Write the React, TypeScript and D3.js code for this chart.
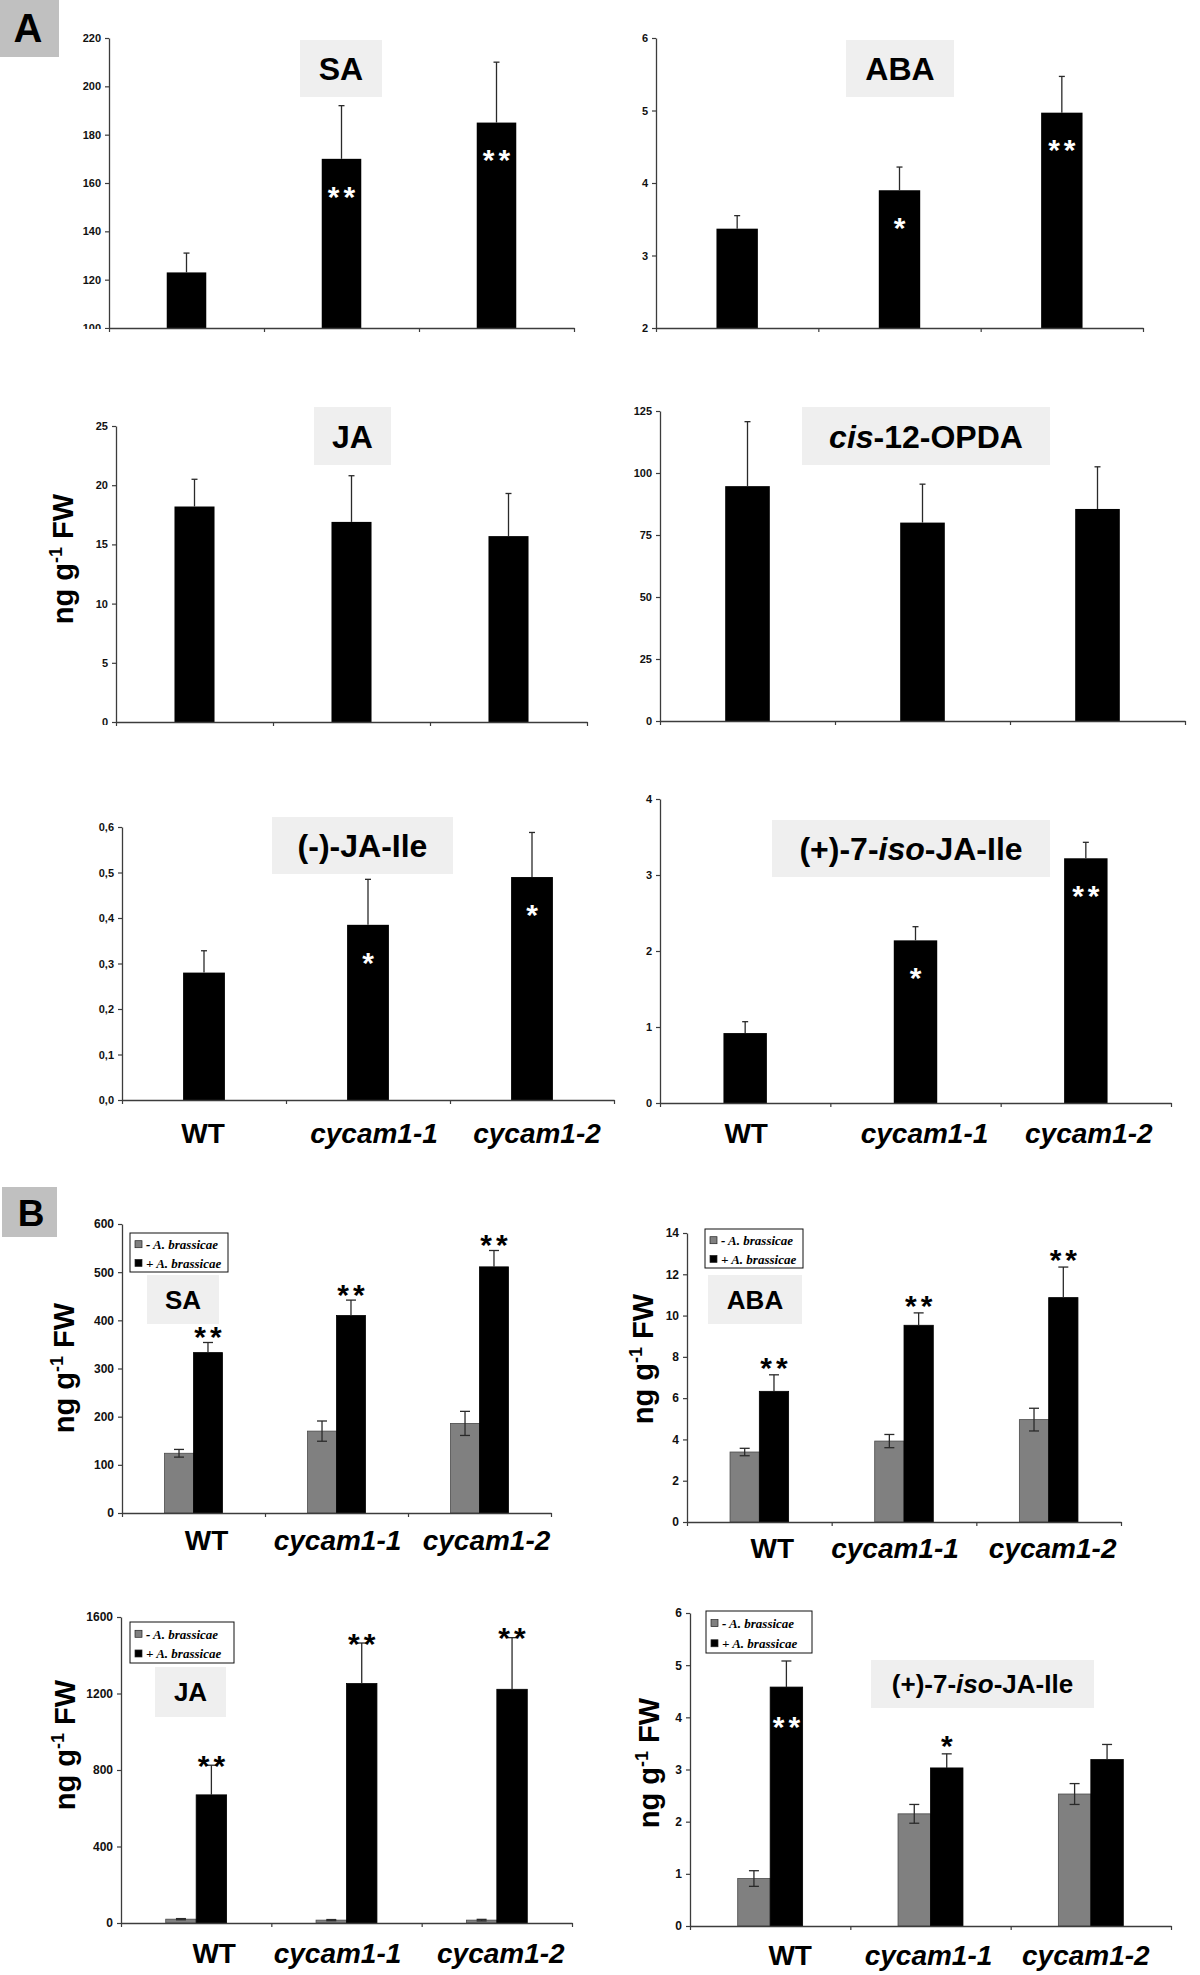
import React, { useEffect, useRef } from 'react';
import * as d3 from 'd3';

// ---- data ----
const genotypes = ['WT', 'cycam1-1', 'cycam1-2'];

// panel A (single series)
const saMean = [123, 170, 185];
const saErr = [8, 22, 25];
const saSig = ['', '**', '**'];
const saTicks = [100, 120, 140, 160, 180, 200, 220];

const abaMean = [3.37, 3.9, 4.97];
const abaErr = [0.18, 0.32, 0.5];
const abaSig = ['', '*', '**'];
const abaTicks = [2, 3, 4, 5, 6];

const jaMean = [18.2, 16.9, 15.7];
const jaErr = [2.3, 3.9, 3.6];
const jaSig = ['', '', ''];
const jaTicks = [0, 5, 10, 15, 20, 25];

const opdaMean = [94.7, 80, 85.5];
const opdaErr = [26, 15.5, 17];
const opdaSig = ['', '', ''];
const opdaTicks = [0, 25, 50, 75, 100, 125];

const jaIleMean = [0.28, 0.385, 0.49];
const jaIleErr = [0.048, 0.1, 0.098];
const jaIleSig = ['', '*', '*'];
const jaIleTicks = [0, 0.1, 0.2, 0.3, 0.4, 0.5, 0.6];

const isoMean = [0.92, 2.14, 3.22];
const isoErr = [0.15, 0.18, 0.21];
const isoSig = ['', '*', '**'];
const isoTicks = [0, 1, 2, 3, 4];

// panel B (- / + A. brassicae)
const bSaMinus = [124, 170, 186];
const bSaMinusErr = [8, 21, 25];
const bSaPlus = [333, 410, 511];
const bSaPlusErr = [21, 32, 34];
const bSaSig = ['**', '**', '**'];
const bSaTicks = [0, 100, 200, 300, 400, 500, 600];

const bAbaMinus = [3.39, 3.92, 4.96];
const bAbaMinusErr = [0.18, 0.32, 0.55];
const bAbaPlus = [6.33, 9.53, 10.87];
const bAbaPlusErr = [0.8, 0.6, 1.48];
const bAbaSig = ['**', '**', '**'];
const bAbaTicks = [0, 2, 4, 6, 8, 10, 12, 14];

const bJaMinus = [20, 15, 15];
const bJaMinusErr = [3, 3, 4];
const bJaPlus = [670, 1252, 1222];
const bJaPlusErr = [155, 212, 270];
const bJaSig = ['**', '**', '**'];
const bJaTicks = [0, 400, 800, 1200, 1600];

const bIsoMinus = [0.91, 2.15, 2.53];
const bIsoMinusErr = [0.15, 0.18, 0.2];
const bIsoPlus = [4.58, 3.03, 3.19];
const bIsoPlusErr = [0.5, 0.27, 0.29];
const bIsoSig = ['**', '*', ''];
const bIsoSigInside = [true, false, false];
const bIsoTicks = [0, 1, 2, 3, 4, 5, 6];

const legendLabels = ['- A. brassicae', '+ A. brassicae'];

type Seg = [string, boolean];
const titleSA: Seg[] = [['SA', false]];
const titleABA: Seg[] = [['ABA', false]];
const titleJA: Seg[] = [['JA', false]];
const titleOPDA: Seg[] = [['cis', true], ['-12-OPDA', false]];
const titleJAIle: Seg[] = [['(-)-JA-Ile', false]];
const titleIso: Seg[] = [['(+)-7-', false], ['iso', true], ['-JA-Ile', false]];

// ---- styles ----
const FONT = '"Liberation Sans", Arial, Helvetica, sans-serif';
const SERIF = '"Liberation Serif", "Times New Roman", serif';
const AXIS = '#3c3c3c';
const ERR = '#2a2a2a';
const GRAY = '#808080';
const TITLE_BG = '#efefef';
const LABEL_BG = '#c0c0c0';

interface Frame { l: number; r: number; t: number; b: number }
interface Layout {
  frame: Frame;
  titleBox: [number, number, number, number];
  titleSize: number;
  tickFont: number;
  clipLow?: number; // tick labels cut below b + clipLow
  yLabel?: [number, number];
  cats?: { y: number; dx: number[] };
  legend?: [number, number, number, number];
  starGap?: number;
}

const commaFmt = (v: number) => d3.format('.1f')(v).replace('.', ',');
const plainFmt = (v: number) => String(v);

function drawTitle(g: any, box: [number, number, number, number], segs: Seg[], size: number) {
  const [x0, y0, x1, y1] = box;
  g.append('rect').attr('x', x0).attr('y', y0).attr('width', x1 - x0).attr('height', y1 - y0).attr('fill', TITLE_BG);
  const t = g.append('text')
    .attr('x', (x0 + x1) / 2)
    .attr('y', (y0 + y1) / 2 + size * 0.36)
    .attr('text-anchor', 'middle')
    .attr('font-family', FONT)
    .attr('font-weight', 'bold')
    .attr('font-size', size)
    .attr('fill', '#000');
  segs.forEach(([s, it]) => t.append('tspan').attr('font-style', it ? 'italic' : 'normal').text(s));
}

let clipCount = 0;
function drawAxes(g: any, y: any, f: Frame, ticks: number[], fmt: (v: number) => string, lay: Layout) {
  const yAxis = d3.axisLeft(y).tickValues(ticks).tickFormat(fmt as any).tickSize(4).tickSizeOuter(0).tickPadding(4);
  const ga = g.append('g').attr('transform', `translate(${f.l},0)`).call(yAxis);
  ga.attr('font-family', FONT).attr('font-size', lay.tickFont).attr('font-weight', 'bold');
  ga.select('.domain').attr('stroke', AXIS).attr('stroke-width', 1.3);
  ga.selectAll('.tick line').attr('stroke', AXIS).attr('stroke-width', 1.2);
  ga.selectAll('.tick text').attr('fill', '#111');
  if (lay.clipLow !== undefined) {
    const id = `clip-low-${clipCount++}`;
    g.append('clipPath').attr('id', id).append('rect')
      .attr('x', -f.l).attr('y', 0).attr('width', f.l + 20).attr('height', f.b + lay.clipLow);
    ga.attr('clip-path', `url(#${id})`);
  }

  const xb = d3.scaleLinear().domain([0, genotypes.length]).range([f.l, f.r]);
  const xAxis = d3.axisBottom(xb).tickValues(d3.range(genotypes.length + 1)).tickFormat(() => '').tickSize(4).tickSizeOuter(0);
  const gx = g.append('g').attr('transform', `translate(0,${f.b})`).call(xAxis);
  gx.select('.domain').attr('stroke', AXIS).attr('stroke-width', 1.3);
  gx.selectAll('.tick line').attr('stroke', AXIS).attr('stroke-width', 1.2);
}

function drawYLabel(g: any, pos: [number, number]) {
  const size = 29;
  const t = g.append('text')
    .attr('transform', `translate(${pos[0] + size * 0.25},${pos[1]}) rotate(-90)`)
    .attr('text-anchor', 'middle')
    .attr('font-family', FONT)
    .attr('font-weight', 'bold')
    .attr('font-size', size)
    .attr('fill', '#000')
    .style('white-space', 'pre');
  t.append('tspan').text('ng g');
  t.append('tspan').attr('font-size', 18).attr('dy', -11).text('-1');
  t.append('tspan').attr('dy', 11).text(' FW');
}

function drawCats(g: any, x: any, cats: { y: number; dx: number[] }) {
  genotypes.forEach((name, i) => {
    g.append('text')
      .attr('x', x(name) + x.bandwidth() / 2 + cats.dx[i])
      .attr('y', cats.y)
      .attr('text-anchor', 'middle')
      .attr('font-family', FONT)
      .attr('font-weight', 'bold')
      .attr('font-style', name === 'WT' ? 'normal' : 'italic')
      .attr('font-size', 28)
      .attr('fill', '#000')
      .text(name);
  });
}

function star(g: any, x: number, cy: number, s: string, color: string) {
  const size = 30;
  g.append('text')
    .attr('x', x + (s.length > 1 ? 2 : 0))
    .attr('y', cy + size * 0.59)
    .attr('text-anchor', 'middle')
    .attr('font-family', FONT)
    .attr('font-weight', 'bold')
    .attr('font-size', size)
    .attr('letter-spacing', s.length > 1 ? 4 : 0)
    .attr('fill', color)
    .text(s);
}

interface SingleCfg {
  title: Seg[]; ticks: number[]; mean: number[]; err: number[]; sig: string[];
  fmt: (v: number) => string; layout: Layout;
}

function drawSingle(svg: any, c: SingleCfg) {
  const lay = c.layout;
  const f = lay.frame;
  const g = svg.append('g');
  const y = d3.scaleLinear().domain([c.ticks[0], c.ticks[c.ticks.length - 1]]).range([f.b, f.t]);
  const x = d3.scaleBand().domain(genotypes).range([f.l, f.r]).padding(0);
  const bw = x.bandwidth() * 0.255;
  const rows = genotypes.map((name, i) => ({ name, mean: c.mean[i], err: c.err[i], sig: c.sig[i] }));
  const cx = (d: any) => (x(d.name) as number) + x.bandwidth() / 2;

  drawTitle(g, lay.titleBox, c.title, lay.titleSize);

  g.selectAll('rect.bar').data(rows).enter().append('rect')
    .attr('x', (d: any) => cx(d) - bw / 2)
    .attr('y', (d: any) => y(d.mean))
    .attr('width', bw)
    .attr('height', (d: any) => y(c.ticks[0]) - y(d.mean))
    .attr('fill', '#000');

  rows.forEach(d => {
    const xc = cx(d);
    g.append('line').attr('x1', xc).attr('x2', xc).attr('y1', y(d.mean)).attr('y2', y(d.mean + d.err))
      .attr('stroke', ERR).attr('stroke-width', 1.3);
    g.append('line').attr('x1', xc - 3).attr('x2', xc + 3).attr('y1', y(d.mean + d.err)).attr('y2', y(d.mean + d.err))
      .attr('stroke', ERR).attr('stroke-width', 1.3);
    if (d.sig) star(g, xc, y(d.mean) + 30, d.sig, '#fff');
  });

  drawAxes(g, y, f, c.ticks, c.fmt, lay);
  if (lay.yLabel) drawYLabel(g, lay.yLabel);
  if (lay.cats) drawCats(g, x, lay.cats);
}

interface PairCfg {
  title: Seg[]; ticks: number[];
  minus: number[]; minusErr: number[]; plus: number[]; plusErr: number[];
  sig: string[]; sigInside?: boolean[]; layout: Layout;
}

function drawPair(svg: any, c: PairCfg) {
  const lay = c.layout;
  const f = lay.frame;
  const g = svg.append('g');
  const y = d3.scaleLinear().domain([c.ticks[0], c.ticks[c.ticks.length - 1]]).range([f.b, f.t]);
  const x = d3.scaleBand().domain(genotypes).range([f.l, f.r]).padding(0);
  const pairW = x.bandwidth() * 0.405;
  const sub = d3.scaleBand().domain(['minus', 'plus']).range([0, pairW]);
  const rows = genotypes.flatMap((name, i) => [
    { name, key: 'minus', mean: c.minus[i], err: c.minusErr[i], i },
    { name, key: 'plus', mean: c.plus[i], err: c.plusErr[i], i },
  ]);
  const bx = (d: any) => (x(d.name) as number) + (x.bandwidth() - pairW) / 2 + (sub(d.key) as number);

  drawTitle(g, lay.titleBox, c.title, lay.titleSize);

  g.selectAll('rect.bar').data(rows).enter().append('rect')
    .attr('x', (d: any) => bx(d))
    .attr('y', (d: any) => y(d.mean))
    .attr('width', sub.bandwidth())
    .attr('height', (d: any) => y(0) - y(d.mean))
    .attr('fill', (d: any) => (d.key === 'minus' ? GRAY : '#000'))
    .attr('stroke', (d: any) => (d.key === 'minus' ? '#4a4a4a' : '#000'))
    .attr('stroke-width', 0.8);

  rows.forEach(d => {
    const xc = bx(d) + sub.bandwidth() / 2;
    // the black (+) bars only show the upper half of the error bar
    const lo = d.key === 'minus' ? y(Math.max(0, d.mean - d.err)) : y(d.mean);
    const hi = y(d.mean + d.err);
    g.append('line').attr('x1', xc).attr('x2', xc).attr('y1', lo).attr('y2', hi).attr('stroke', ERR).attr('stroke-width', 1.3);
    const caps = d.key === 'minus' ? [lo, hi] : [hi];
    caps.forEach(yy => g.append('line').attr('x1', xc - 5).attr('x2', xc + 5).attr('y1', yy).attr('y2', yy)
      .attr('stroke', ERR).attr('stroke-width', 1.3));
    if (d.key === 'plus' && c.sig[d.i]) {
      if (c.sigInside && c.sigInside[d.i]) star(g, xc, y(d.mean) + 32, c.sig[d.i], '#fff');
      else star(g, xc, hi - (lay.starGap ?? 13), c.sig[d.i], '#000');
    }
  });

  drawAxes(g, y, f, c.ticks, plainFmt, lay);
  if (lay.yLabel) drawYLabel(g, lay.yLabel);
  if (lay.cats) drawCats(g, x, lay.cats);

  if (lay.legend) {
    const [lx, ly, lw, lh] = lay.legend;
    const lg = g.append('g');
    lg.append('rect').attr('x', lx).attr('y', ly).attr('width', lw).attr('height', lh)
      .attr('fill', '#fff').attr('stroke', '#111').attr('stroke-width', 1);
    legendLabels.forEach((lab, k) => {
      const ry = ly + lh * (k === 0 ? 0.3 : 0.78);
      lg.append('rect').attr('x', lx + 5).attr('y', ry - 4).attr('width', 7).attr('height', 7)
        .attr('fill', k === 0 ? GRAY : '#000').attr('stroke', '#222').attr('stroke-width', 0.7);
      lg.append('text').attr('x', lx + 16).attr('y', ry + 4.5)
        .attr('font-family', SERIF).attr('font-style', 'italic').attr('font-weight', 'bold')
        .attr('font-size', 13).attr('fill', '#000').text(lab);
    });
  }
}

const singleCharts: SingleCfg[] = [
  { title: titleSA, ticks: saTicks, mean: saMean, err: saErr, sig: saSig, fmt: plainFmt,
    layout: { frame: { l: 109, r: 574, t: 38, b: 328 }, titleBox: [300, 40, 382, 97], titleSize: 32, tickFont: 11, clipLow: 1 } },
  { title: titleABA, ticks: abaTicks, mean: abaMean, err: abaErr, sig: abaSig, fmt: plainFmt,
    layout: { frame: { l: 656, r: 1143, t: 38, b: 328 }, titleBox: [846, 40, 954, 97], titleSize: 32, tickFont: 11 } },
  { title: titleJA, ticks: jaTicks, mean: jaMean, err: jaErr, sig: jaSig, fmt: plainFmt,
    layout: { frame: { l: 116, r: 587, t: 426, b: 722 }, titleBox: [314, 407, 391, 465], titleSize: 32, tickFont: 11, clipLow: 3, yLabel: [66, 559] } },
  { title: titleOPDA, ticks: opdaTicks, mean: opdaMean, err: opdaErr, sig: opdaSig, fmt: plainFmt,
    layout: { frame: { l: 660, r: 1185, t: 411, b: 721 }, titleBox: [802, 407, 1050, 465], titleSize: 32, tickFont: 11 } },
  { title: titleJAIle, ticks: jaIleTicks, mean: jaIleMean, err: jaIleErr, sig: jaIleSig, fmt: commaFmt,
    layout: { frame: { l: 122, r: 614, t: 827, b: 1100 }, titleBox: [272, 817, 453, 874], titleSize: 32, tickFont: 11, cats: { y: 1143, dx: [-1, 6, 5] } } },
  { title: titleIso, ticks: isoTicks, mean: isoMean, err: isoErr, sig: isoSig, fmt: plainFmt,
    layout: { frame: { l: 660, r: 1171, t: 799, b: 1103 }, titleBox: [772, 820, 1050, 877], titleSize: 32, tickFont: 11, cats: { y: 1143, dx: [1, 9, 3] } } },
];

const pairCharts: PairCfg[] = [
  { title: titleSA, ticks: bSaTicks, minus: bSaMinus, minusErr: bSaMinusErr, plus: bSaPlus, plusErr: bSaPlusErr, sig: bSaSig,
    layout: { frame: { l: 122, r: 551, t: 1224, b: 1513 }, titleBox: [147, 1275, 219, 1324], titleSize: 26, tickFont: 12,
      yLabel: [67, 1368], cats: { y: 1550, dx: [13, 1, 7] }, legend: [130, 1233, 98, 39], starGap: 13 } },
  { title: titleABA, ticks: bAbaTicks, minus: bAbaMinus, minusErr: bAbaMinusErr, plus: bAbaPlus, plusErr: bAbaPlusErr, sig: bAbaSig,
    layout: { frame: { l: 687, r: 1121, t: 1233, b: 1522 }, titleBox: [708, 1275, 802, 1324], titleSize: 26, tickFont: 12,
      yLabel: [646, 1359], cats: { y: 1558, dx: [13, -9, 4] }, legend: [705, 1229, 98, 39], starGap: 15 } },
  { title: titleJA, ticks: bJaTicks, minus: bJaMinus, minusErr: bJaMinusErr, plus: bJaPlus, plusErr: bJaPlusErr, sig: bJaSig,
    layout: { frame: { l: 121, r: 572, t: 1617, b: 1923 }, titleBox: [155, 1667, 226, 1717], titleSize: 26, tickFont: 12,
      yLabel: [68, 1745], cats: { y: 1963, dx: [18, -9, 4] }, legend: [130, 1622, 104, 41], starGap: 7 } },
  { title: titleIso, ticks: bIsoTicks, minus: bIsoMinus, minusErr: bIsoMinusErr, plus: bIsoPlus, plusErr: bIsoPlusErr, sig: bIsoSig, sigInside: bIsoSigInside,
    layout: { frame: { l: 690, r: 1171, t: 1613, b: 1926 }, titleBox: [871, 1660, 1094, 1708], titleSize: 26, tickFont: 12,
      yLabel: [652, 1763], cats: { y: 1965, dx: [20, -2, -5] }, legend: [706, 1611, 106, 42], starGap: 16 } },
];

const App: React.FC = () => {
  const ref = useRef<SVGSVGElement | null>(null);

  useEffect(() => {
    if (!ref.current) return;
    const svg = d3.select(ref.current);
    svg.selectAll('*').remove();
    clipCount = 0;

    svg.append('rect').attr('width', 1200).attr('height', 1975).attr('fill', '#fff');

    // panel letters
    svg.append('rect').attr('x', 0).attr('y', 0).attr('width', 59).attr('height', 57).attr('fill', LABEL_BG);
    svg.append('text').attr('x', 28).attr('y', 42).attr('text-anchor', 'middle')
      .attr('font-family', FONT).attr('font-weight', 'bold').attr('font-size', 40).text('A');
    svg.append('rect').attr('x', 2).attr('y', 1187).attr('width', 55).attr('height', 50).attr('fill', LABEL_BG);
    svg.append('text').attr('x', 31).attr('y', 1226).attr('text-anchor', 'middle')
      .attr('font-family', FONT).attr('font-weight', 'bold').attr('font-size', 37).text('B');

    singleCharts.forEach(c => drawSingle(svg, c));
    pairCharts.forEach(c => drawPair(svg, c));
  }, []);

  return (
    <>
      <style>{'body{margin:0}'}</style>
      <svg ref={ref} width={1200} height={1975} style={{ display: 'block' }} />
    </>
  );
};

export default App;
